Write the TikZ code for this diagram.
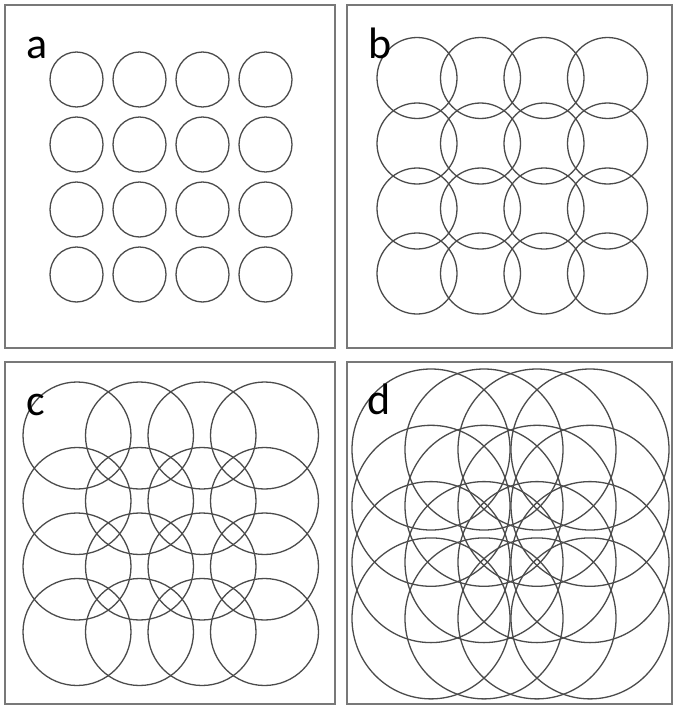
\documentclass[tikz,border=0pt]{standalone}
\usepackage{fontspec}
\newfontfamily\labelfont{Carlito}
\usepackage{tikz}
\definecolor{FrameGray}{RGB}{120, 120, 120}
\definecolor{RingGray}{RGB}{75, 75, 75}
\tikzset{
  frame/.style={draw=FrameGray, line width=1.8pt},
  ring/.style={draw=RingGray, line width=1.3pt},
  panel label/.style={anchor=base west, inner sep=0pt, font=\labelfont\fontsize{44}{44}\selectfont}
}

\begin{document}
\begin{tikzpicture}[x=1pt,y=-1pt]
    \useasboundingbox (0,0) rectangle (673,707);
    % a: small circles, no overlap
    \begin{scope}[shift={(5,5)}]
    \draw[frame] (0,0) rectangle (330,343);
    \foreach \x in {71.5,134.5,197.5,260.5} {
      \foreach \y in {74.5,139.5,204.5,269.5} {
        \draw[ring] (\x,\y) ellipse (26.5 and 27.5);
      }
    }
    \node[panel label] (la) at (21,53) {a};
    \end{scope}

    % b: neighbours just overlap
    \begin{scope}[shift={(347,5)}]
    \draw[frame] (0,0) rectangle (325,343);
    \foreach \x in {70,133.5,197,260.5} {
      \foreach \y in {73,138.5,203.5,268.5} {
        \draw[ring] (\x,\y) ellipse (40 and 40.5);
      }
    }
    \node[panel label] (lb) at (21,53) {b};
    \end{scope}

    % c: larger overlap
    \begin{scope}[shift={(5,362)}]
    \draw[frame] (0,0) rectangle (330,342);
    \foreach \x in {72,134.5,197,259.5} {
      \foreach \y in {73.5,139,204.5,270} {
        \draw[ring] (\x,\y) ellipse (54 and 53.5);
      }
    }
    \node[panel label] (lc) at (21,53) {c};
    \end{scope}

    % d: dense grid, big circles
    \begin{scope}[shift={(347,362)}]
    \draw[frame] (0,0) rectangle (325,342);
    \foreach \x in {84,137,190,243} {
      \foreach \y in {87.5,143.8,200.1,256.4} {
        \draw[ring] (\x,\y) ellipse (79 and 80.5);
      }
    }
    \node[panel label] (ld) at (20,52) {d};
    \end{scope}
  \end{tikzpicture}
\end{document}
